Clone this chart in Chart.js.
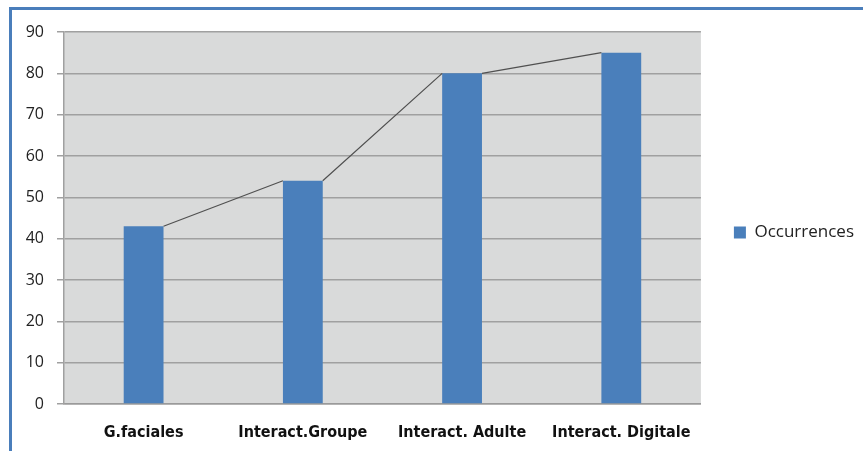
<!DOCTYPE html>
<html>
<head>
<meta charset="utf-8">
<script src="https://cdn.jsdelivr.net/npm/chart.js@4"></script>
<style>
  html, body { margin: 0; padding: 0; background: #ffffff; }
  #wrap { position: relative; width: 863px; height: 451px; overflow: hidden; }
  #frame { position: absolute; left: 9px; top: 7px; width: 1000px; height: 1000px;
           border-left: 3px solid #4a7ebb; border-top: 3px solid #4a7ebb; box-sizing: border-box; }
  canvas { position: absolute; left: 0; top: 0; }
</style>
</head>
<body>
<div id="wrap">
  <div id="frame"></div>
  <canvas id="c" width="863" height="451"></canvas>
</div>
<script>
const categories = ["G.faciales", "Interact.Groupe", "Interact. Adulte", "Interact. Digitale"];
const occurrences = [43, 54, 80, 85];
const seriesName = "Occurrences";
const yMin = 0, yMax = 90, yStep = 10;

const plotBg = {
  id: 'plotBg',
  beforeDraw(chart) {
    const { ctx, chartArea: a } = chart;
    ctx.save();
    ctx.fillStyle = '#d9dada';
    ctx.fillRect(a.left, a.top, a.right - a.left, a.bottom - a.top);
    ctx.restore();
  }
};

const legendShift = {
  id: 'legendShift',
  afterLayout(chart) {
    if (chart.legend) { chart.legend.top -= 9; chart.legend.bottom -= 9; }
  }
};

const seriesLines = {
  id: 'seriesLines',
  afterDatasetsDraw(chart) {
    const meta = chart.getDatasetMeta(0);
    const ctx = chart.ctx;
    ctx.save();
    ctx.strokeStyle = '#505050';
    ctx.lineWidth = 1.2;
    ctx.beginPath();
    for (let i = 0; i < meta.data.length - 1; i++) {
      const a = meta.data[i], b = meta.data[i + 1];
      ctx.moveTo(a.x + a.width / 2, a.y);
      ctx.lineTo(b.x - b.width / 2, b.y);
    }
    ctx.stroke();
    ctx.restore();
  }
};

new Chart(document.getElementById('c'), {
  type: 'bar',
  data: {
    labels: categories,
    datasets: [{
      label: seriesName,
      data: occurrences,
      backgroundColor: '#4a7fbb',
      borderWidth: 0,
      categoryPercentage: 1.0,
      barPercentage: 0.25
    }]
  },
  options: {
    responsive: false,
    animation: false,
    events: [],
    layout: { padding: { top: 32, left: 0, right: -1, bottom: 0 } },
    plugins: {
      legend: {
        position: 'right',
        labels: {
          boxWidth: 12, boxHeight: 12, padding: 33,
          color: '#222', font: { family: 'Open Sans', size: 17 }
        }
      },
      tooltip: { enabled: false }
    },
    scales: {
      x: {
        grid: { display: false, drawTicks: false },
        border: { display: true, color: '#9a9a9a', width: 1.5 },
        ticks: { color: '#111', padding: 19, maxRotation: 0,
                 font: { family: 'DejaVu Sans Condensed', size: 16, weight: 'bold' } },
        afterFit(s) { s.height = 47; }
      },
      y: {
        min: yMin, max: yMax,
        ticks: { stepSize: yStep, color: '#222', padding: 13,
                 font: { family: 'Open Sans', size: 16 } },
        grid: { color: '#a0a0a0', lineWidth: 1.5, tickLength: 7, drawTicks: true },
        border: { display: true, color: '#a0a0a0', width: 1.5 },
        afterFit(s) { s.width = 64; }
      }
    }
  },
  plugins: [plotBg, legendShift, seriesLines]
});
</script>
</body>
</html>
